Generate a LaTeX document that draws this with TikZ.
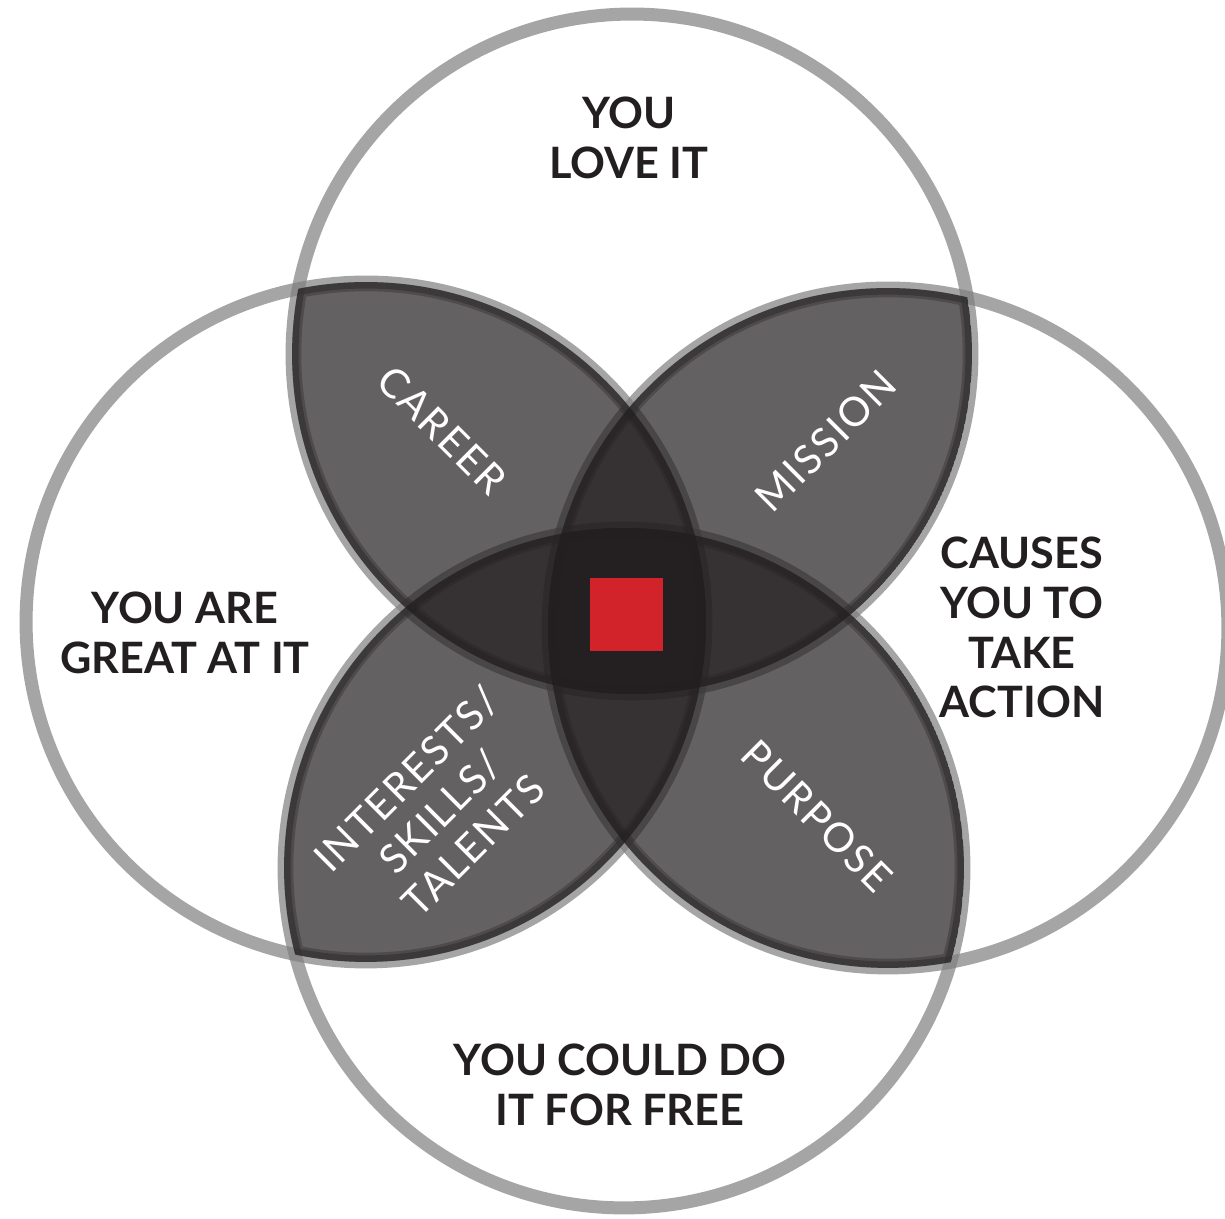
\documentclass[tikz,border=0pt]{standalone}
\usepackage{fontspec}
\setmainfont{Lato}
\newfontfamily\lensfont{Lato}[LetterSpace=5]
\definecolor{rich}{HTML}{231F20}
\definecolor{ringc}{HTML}{7F7F7F}
\definecolor{sq}{HTML}{D2232A}
\newcommand{\rad}{6.8cm}
\newcommand{\lensfill}[2]{%
  \begin{scope}
    \clip (#1) circle[radius=\rad];
    \clip (#2) circle[radius=\rad];
    \fill[rich, fill opacity=0.7] (#1) circle[radius=\rad];
    \draw[rich, draw opacity=0.32, line width=10.5pt] (#1) circle[radius=\rad] (#2) circle[radius=\rad];
  \end{scope}}
\begin{document}
\begin{tikzpicture}[x=0.02cm,y=0.02cm,
  ringline/.style={draw=ringc, draw opacity=0.7, line width=7.4pt},
  biglabel/.style={font=\bfseries\fontsize{24.6}{28.4}\selectfont, text=rich, align=center, inner sep=0pt},
  lenslabel/.style={font=\lensfont\fontsize{23}{26.8}\selectfont, text=white, align=center, inner sep=0pt}]
\useasboundingbox (0,0) rectangle (1225,1219);
\fill[white] (0,0) rectangle (1225,1219);
\coordinate (T) at (632,865);
\coordinate (B) at (624,351);
\coordinate (L) at (366,597);
\coordinate (R) at (888,591);
\draw[ringline] (T) circle[radius=\rad];
\draw[ringline] (L) circle[radius=\rad];
\draw[ringline] (R) circle[radius=\rad];
\draw[ringline] (B) circle[radius=\rad];
\lensfill{T}{L}
\lensfill{T}{R}
\lensfill{B}{L}
\lensfill{B}{R}
\node[fill=sq, minimum size=1.46cm, inner sep=0pt] (core) at (626.5,604.5) {};
\node[biglabel] (love) at (629,1081.5) {YOU\\LOVE IT};
\node[biglabel] (great) at (185,586) {YOU ARE\\GREAT AT IT};
\node[biglabel] (causes) at (1022,591.5) {CAUSES\\YOU TO\\TAKE\\ACTION};
\node[biglabel] (free) at (620,134) {YOU COULD DO\\IT FOR FREE};
\node[lenslabel, rotate=-45] (career) at (442,789) {CAREER};
\node[lenslabel, rotate=45] (mission) at (826,778) {MISSION};
\node[lenslabel, rotate=-45] (purpose) at (817,403) {PURPOSE};
\node[lenslabel, rotate=45] (skills) at (440,407) {INTERESTS/\\SKILLS/\\TALENTS};
\end{tikzpicture}
\end{document}
